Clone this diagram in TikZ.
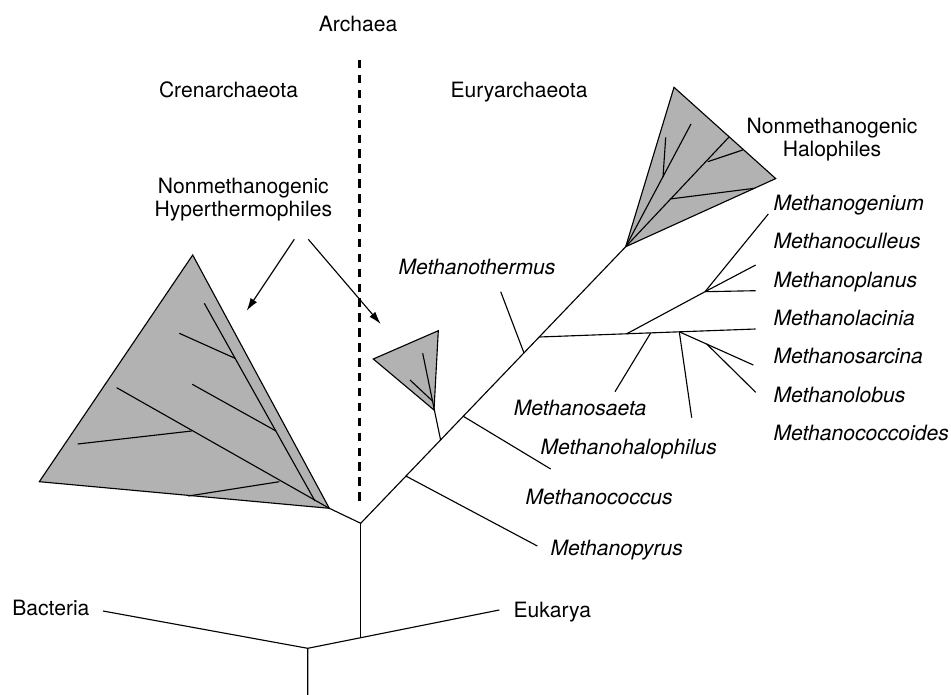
\documentclass[tikz,border=0pt]{standalone}
\usepackage{fontspec}
\setmainfont{TeX Gyre Heros}
\usetikzlibrary{arrows.meta}
\tikzset{every node/.style={font=\fontsize{15}{16.6}\selectfont, inner sep=0pt},
  taxon/.style={font=\fontsize{15}{16.6}\selectfont\itshape, anchor=base west},
  group/.style={anchor=base},
  clade/.style={draw, fill=black!30, line join=miter},
  divider/.style={line width=2.1pt, dash pattern=on 6pt off 4.6pt},
  pointer/.style={-{Latex[length=9pt,width=5.5pt]}}}

\begin{document}
\begin{tikzpicture}[x=0.025cm, y=-0.025cm, line width=0.8pt]
  \useasboundingbox (0,0) rectangle (951,695);

  % headings and the Cren/Eury divide
  \node[group] (archaea) at (358,31.7) {Archaea};
  \node[group] (cren) at (228.5,97.3) {Crenarchaeota};
  \node[group] (eury) at (519,97.3) {Euryarchaeota};
  \node[align=center] (hyper) at (243.3,199.6) {Nonmethanogenic\\Hyperthermophiles};
  \node[align=center] (halo) at (832,139.6) {Nonmethanogenic\\Halophiles};
  \coordinate (divtop) at (359.3,60);
  \coordinate (divbot) at (359.3,502);
  \draw[divider] (divtop) -- (divbot);

  % arrows to the two hyperthermophile groups
  \coordinate (p1) at (294.3,239.3);
  \coordinate (t1) at (246.7,310.7);
  \coordinate (p2) at (308.3,239.3);
  \coordinate (t2) at (380.7,324);
  \draw[pointer] (p1) -- (t1);
  \draw[pointer] (p2) -- (t2);

  % root, outgroups
  \coordinate (root) at (307.7,695);
  \coordinate (base) at (307.7,648.3);
  \coordinate (bac) at (103,611);
  \coordinate (euk) at (499.3,610);
  \coordinate (arch) at (360.7,637.7);
  \coordinate (split) at (360.7,523.3);
  \node[anchor=base east] (bacteria) at (90,615.6) {Bacteria};
  \node[anchor=base west] (eukarya) at (513,617) {Eukarya};
  \draw (root) -- (base) -- (bac);
  \draw (base) -- (euk);
  \draw (arch) -- (split);

  % Crenarchaeota
  \coordinate (c0) at (329.3,508.3);
  \draw (split) -- (c0);
  \draw[clade] (c0) -- (192.7,255) -- (39.3,481.7) -- cycle;
  \foreach \xa/\ya/\xb/\yb in {329.3/508.3/116.7/387.7, 191.7/431/77.7/444,
      315/501/204.3/303.3, 235/358.3/179.3/333.3, 276/431/192.3/384.3,
      188.3/496/279.3/481.7}
    \draw (\xa,\ya) -- (\xb,\yb);

  % Euryarchaeota backbone
  \coordinate (hapex) at (625.7,246.7);
  \coordinate (pyr0) at (406,476.1);
  \coordinate (sm0) at (440.6,440);
  \coordinate (coc0) at (463.3,416.3);
  \coordinate (therm0) at (524,353);
  \coordinate (clu0) at (539.3,337);
  \draw (split) -- (hapex);

  \coordinate (pyr1) at (537.3,546);
  \coordinate (coc1) at (550.7,469);
  \coordinate (therm1) at (500.7,291.7);
  \draw (pyr0) -- (pyr1);
  \draw (coc0) -- (coc1);
  \draw (therm0) -- (therm1);
  \node[taxon] (pyrus) at (550,555.9) {Methanopyrus};
  \node[taxon] (coccus) at (525,504.9) {Methanococcus};
  \node[taxon] (thermus) at (398,274.6) {Methanothermus};

  % small hyperthermophile clade
  \coordinate (sm1) at (432.5,401);
  \draw[clade] (434,410) -- (438.3,330.7) -- (373.3,359) -- cycle;
  \draw (sm0) -- (sm1);
  \draw (422.7,353.3) -- (sm1);
  \draw (410,380) -- (sm1);

  % halophiles
  \draw[clade] (hapex) -- (674,87.3) -- (775.7,178.6) -- cycle;
  \foreach \xa/\ya/\xb/\yb in {625.7/246.7/691/124, 663/177/665.7/137.3,
      625.7/246.7/729/137, 707.7/161.7/742.7/150, 670/199/754.3/188.3}
    \draw (\xa,\ya) -- (\xb,\yb);

  % methanogen cluster
  \coordinate (clu1) at (755.7,329);
  \coordinate (n1) at (626.7,333.8);
  \coordinate (n2) at (705,291.7);
  \coordinate (sae0) at (650.7,332.9);
  \coordinate (sae1) at (615,391.7);
  \coordinate (n3) at (679.3,331.8);
  \coordinate (n4) at (706.7,344);
  \coordinate (gen1) at (768.3,214);
  \coordinate (cul1) at (755.7,265);
  \coordinate (pla1) at (755.7,290.7);
  \coordinate (hal1) at (691.7,417.7);
  \coordinate (sar1) at (753.3,365);
  \coordinate (lob1) at (755.7,392.3);
  \draw (clu0) -- (clu1);
  \draw (n1) -- (n2) -- (gen1);
  \draw (n2) -- (cul1);
  \draw (n2) -- (pla1);
  \draw (sae0) -- (sae1);
  \draw (n3) -- (hal1);
  \draw (n3) -- (sar1);
  \draw (n4) -- (lob1);
  \node[taxon] (saeta) at (513.3,415.9) {Methanosaeta};
  \node[taxon] (halophilus) at (540,454.3) {Methanohalophilus};

  \foreach \t [count=\i from 0] in {genium,culleus,planus,lacinia,sarcina,lobus,coccoides}
    \node[taxon] (\t) at (773,210.6+38.3*\i) {Methano\t};
\end{tikzpicture}
\end{document}
